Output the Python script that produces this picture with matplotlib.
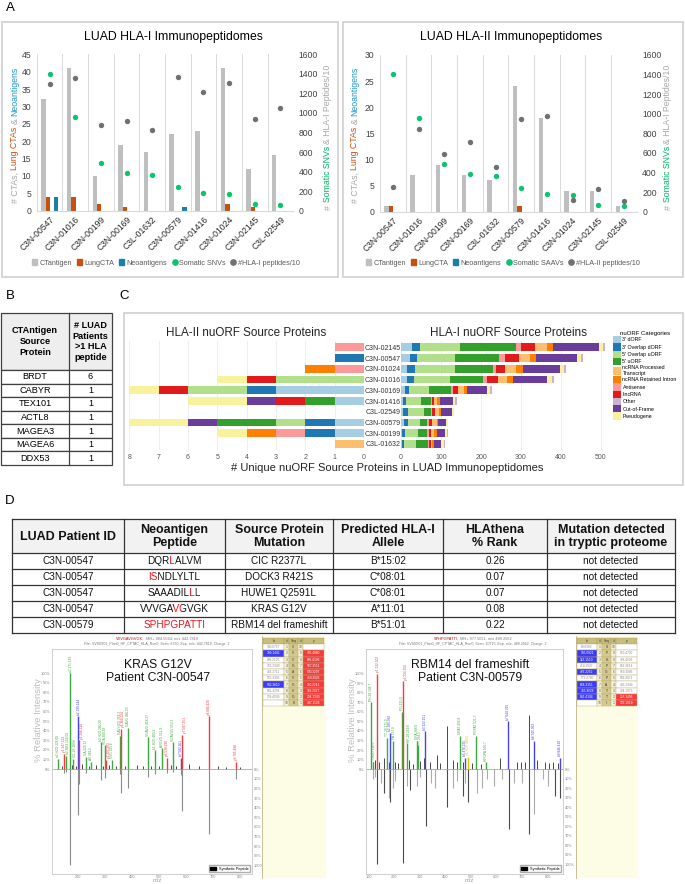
import numpy as np
import matplotlib
matplotlib.use("Agg")
import matplotlib.pyplot as plt
from matplotlib.patches import Rectangle, Patch
from matplotlib.lines import Line2D
from matplotlib.font_manager import FontProperties
from matplotlib.transforms import Bbox, TransformedBbox

FAM = ['Liberation Sans', 'DejaVu Sans']
plt.rcParams['font.family'] = FAM

# ---------------- Panel A data ----------------
patients_a = ['C3N-00547', 'C3N-01016', 'C3N-00199', 'C3N-00169', 'C3L-01632',
              'C3N-00579', 'C3N-01416', 'C3N-01024', 'C3N-02145', 'C3L-02549']
hla1_ctantigen = [32, 41, 10, 19, 17, 22, 23, 41, 12, 16]
hla1_lungcta = [4, 4, 2, 1, 0, 0, 0, 2, 1, 0]
hla1_neoantigens = [4, 0, 0, 0, 0, 1, 0, 0, 0, 0]
hla1_snvs = [1400, 960, 490, 385, 365, 240, 185, 175, 65, 60]
hla1_peptides10 = [1295, 1355, 880, 920, 825, 1370, 1215, 1305, 940, 1055]
hla2_ctantigen = [1, 7, 9, 7, 6, 24, 18, 4, 4, 1]
hla2_lungcta = [1, 0, 0, 0, 0, 1, 0, 0, 0, 0]
hla2_neoantigens = [0, 0, 0, 0, 0, 0, 0, 0, 0, 0]
hla2_saavs = [1405, 960, 490, 385, 365, 240, 185, 175, 65, 60]
hla2_peptides10 = [255, 840, 590, 715, 460, 945, 975, 115, 235, 110]

# ---------------- Panel B data ----------------
b_proteins = ['BRDT', 'CABYR', 'TEX101', 'ACTL8', 'MAGEA3', 'MAGEA6', 'DDX53']
b_patients = ['6', '1', '1', '1', '1', '1', '1']

# ---------------- Panel C data ----------------
patients_c = ['C3N-02145', 'C3N-00547', 'C3N-01024', 'C3N-01016', 'C3N-00169',
              'C3N-01416', 'C3L-02549', 'C3N-00579', 'C3N-00199', 'C3L-01632']
stack_names = ["3' dORF", "3' Overlap dORF", "5' Overlap uORF", "5' uORF", "Antisense",
               "lincRNA", "ncRNA Processed Transcript", "ncRNA Retained Intron",
               "Out-of-Frame", "Pseudogene", "Other"]
stack_colors = ['#A6CEE3', '#1F78B4', '#B2DF8A', '#33A02C', '#FB9A99', '#E31A1C',
                '#FDBF6F', '#FF7F00', '#6A3D9A', '#F8F29C', '#CAB2D6']
h1_3dorf = [27, 22, 14, 16, 10, 5, 6, 7, 3, 3]
h1_3odorf = [20, 17, 21, 16, 10, 8, 12, 11, 7, 5]
h1_5ouorf = [100, 96, 100, 90, 50, 37, 40, 29, 32, 30]
h1_5uorf = [141, 111, 94, 84, 55, 24, 17, 19, 24, 30]
h1_antisense = [12, 14, 8, 8, 4, 3, 3, 4, 4, 3]
h1_lincrna = [36, 35, 23, 29, 13, 6, 7, 7, 5, 3]
h1_ncproc = [30, 27, 27, 23, 16, 6, 10, 12, 8, 4]
h1_ncri = [13, 15, 19, 15, 8, 9, 6, 4, 6, 5]
h1_oof = [116, 103, 92, 85, 50, 31, 27, 19, 21, 17]
h1_pseudo = [10, 10, 10, 12, 7, 6, 4, 5, 4, 8]
h1_other = [5, 5, 5, 4, 4, 4, 1, 1, 3, 1]
h2_3dorf = [0, 0, 0, 0, 3, 1, 0, 1, 1, 0]
h2_3odorf = [0, 1, 0, 0, 1, 0, 0, 1, 1, 0]
h2_5ouorf = [0, 0, 0, 3, 2, 0, 0, 1, 0, 0]
h2_5uorf = [0, 0, 0, 0, 0, 1, 0, 2, 0, 0]
h2_antisense = [1, 0, 1, 0, 0, 0, 0, 0, 1, 0]
h2_lincrna = [0, 0, 0, 1, 1, 1, 0, 0, 0, 0]
h2_ncproc = [0, 0, 0, 0, 0, 0, 0, 0, 0, 1]
h2_ncri = [0, 0, 1, 0, 0, 0, 0, 0, 1, 0]
h2_oof = [0, 0, 0, 0, 0, 1, 0, 1, 0, 0]
h2_pseudo = [0, 0, 0, 1, 1, 2, 0, 2, 1, 0]
h2_other = [0, 0, 0, 0, 0, 0, 0, 0, 0, 0]
legend_order = ["3' dORF", "3' Overlap dORF", "5' Overlap uORF", "5' uORF",
                "ncRNA Processed\nTranscript", "ncRNA Retained Intron", "Antisense",
                "lincRNA", "Other", "Out-of-Frame", "Pseudogene"]
legend_colors = ['#A6CEE3', '#1F78B4', '#B2DF8A', '#33A02C', '#FDBF6F', '#FF7F00',
                 '#FB9A99', '#E31A1C', '#CAB2D6', '#6A3D9A', '#F8F29C']

# ---------------- Panel D data ----------------
d_headers = ['LUAD Patient ID', 'Neoantigen\nPeptide', 'Source Protein\nMutation',
             'Predicted HLA-I\nAllele', 'HLAthena\n% Rank', 'Mutation detected\nin tryptic proteome']
d_patient = ['C3N-00547', 'C3N-00547', 'C3N-00547', 'C3N-00547', 'C3N-00579']
d_peptide = ['DQRLALVM', 'ISNDLYLTL', 'SAAADILLL', 'VVVGAVGVGK', 'SPHPGPATTI']
d_red_pos = [[3], [0, 1], [7], [5], [0, 1, 2, 3, 4, 5, 6, 7, 8, 9]]
d_mutation = ['CIC R2377L', 'DOCK3 R421S', 'HUWE1 Q2591L', 'KRAS G12V', 'RBM14 del frameshift']
d_allele = ['B*15:02', 'C*08:01', 'C*08:01', 'A*11:01', 'B*51:01']
d_rank = ['0.26', '0.07', '0.07', '0.08', '0.22']
d_detected = ['not detected', 'not detected', 'not detected', 'not detected', 'not detected']

# KRAS G12V spectrum (VVVGAVGVGK)
kras_mz = [126.1, 147.1, 154.5, 170.6, 180.6, 199.1, 204.1, 229.2, 248.2, 283.2, 300.2, 303.2,
           325.6, 354.2, 360.2, 386.2, 458.3, 483.3, 511.3, 530.3, 552.3, 582.4, 587.4, 686.4, 785.5]
kras_int = [11, 16, 14, 100, 11, 55, 30, 13, 8, 28, 25, 10, 10, 35, 42, 43, 33, 20, 22, 12, 28, 12, 36, 55, 8]
kras_col = ['g', 'r', 'g', 'g', 'g', 'b', 'r', 'g', 'g', 'g', 'g', 'r', 'g', 'g', 'r', 'g', 'g', 'g',
            'g', 'r', 'g', 'b', 'r', 'r', 'r']
kras_lab = ['a2-H2O 126.09', 'y1 147.113', 'b2-NH3 154.09', 'a2 171.149', 'VG-28 180.6',
            'b2 199.144', 'y2 204.134', 'GA 229.12', 'AV 248.2', 'b3-H2O 280.20', 'VGA 300.18',
            'y3 303.203', 'VVG 325.6', 'GAV-H2O 354.2', 'y4 360.224', 'GAVG 386.23',
            'VGAVG 458.27', 'b5-H2O 483.3', 'AVGVG 511.3', 'y6 530.330', 'VGAVGV 552.3',
            'b7 582.361', 'y7 587.351', 'y8 686.420', 'y9 785.488']
kras_other_mz = [140, 175, 190, 215, 240, 265, 290, 315, 340, 375, 420, 440, 470, 500, 545, 565,
                 610, 650, 720, 750, 800]
kras_other_int = [3, 4, 3, 5, 3, 4, 3, 4, 3, 3, 4, 3, 3, 3, 4, 3, 5, 3, 3, 2, 2]
kras_syn_mz = [147.1, 154.5, 170.6, 199.1, 204.1, 229.2, 283.2, 300.2, 354.2, 360.2, 386.2,
               458.3, 483.3, 530.3, 552.3, 582.4, 587.4, 686.4, 785.5]
kras_syn_int = [-4, -3, -100, -48, -15, -4, -11, -9, -5, -25, -20, -8, -5, -4, -3, -6, -43, -67, -10]
kras_b = ['100.0757', '199.1441', '298.2125', '355.2340', '426.2711', '525.3395', '582.3610',
          '681.4294', '738.4509', '']
kras_y = ['', '785.4880', '686.4196', '587.3511', '530.3297', '459.2926', '360.2241',
          '303.2027', '204.1343', '147.1128']
kras_blue_rows = [2, 7]
kras_red_rows = [2, 3, 4, 5, 6, 7, 8, 9, 10]

# RBM14 del frameshift spectrum (SPHPGPATTI)
rbm_mz = [108.7, 116.5, 132.1, 171.0, 185.1, 197.0, 231.0, 233.1, 249.0, 288.0, 294.5, 322.2,
          456.8, 476.2, 489.0, 521.7, 560.7, 644.3, 745.4, 846.4]
rbm_int = [70, 8, 100, 33, 38, 30, 60, 92, 27, 30, 25, 40, 35, 12, 13, 35, 7, 50, 30, 12]
rbm_col = ['g', 'g', 'r', 'g', 'b', 'g', 'g', 'r', 'g', 'g', 'g', 'b', 'g', 'b', 'y', 'g', 'g',
           'b', 'b', 'b']
rbm_lab = ['PH-28 108.7', 'T-H2O 116.5', 'y1 132.102', 'TT-28 171.0', 'b2 185.092', 'PA 197.0',
           'PG 231.0', 'y2 233.150', 'HP-28 249.0', 'GPA 288.0', 'TT 294.5', 'b3 322.151',
           'GPAT 456.8', 'b5 476.225', 'y4-H2O 489.0', 'PGPAT 521.7', 'HPGPA 560.7',
           'b7 644.315', 'b8 745.363', 'b9 846.410']
rbm_other_mz = [117, 125, 142, 160, 178, 205, 215, 260, 275, 300, 318, 340, 366, 378, 405, 430,
                445, 470, 505, 540, 612, 680, 697, 710, 727, 760, 790, 807, 820, 842]
rbm_other_int = [8, 10, 8, 12, 8, 8, 6, 10, 5, 9, 12, 8, 15, 6, 45, 10, 8, 7, 6, 5, 12, 8, 7, 8,
                 57, 10, 8, 6, 8, 6]
rbm_syn_dark_mz = [133, 160, 185, 233, 262, 325, 406, 470, 490, 648, 727, 830, 850]
rbm_syn_dark_int = [-100, -25, -35, -98, -22, -60, -40, -28, -35, -63, -68, -28, -30]
rbm_syn_light_mz = [117, 125, 147, 178, 197, 205, 250, 290, 300, 345, 360, 430, 445, 476, 522,
                    545, 563, 590, 620, 670, 700, 745, 780, 800]
rbm_syn_light_int = [-10, -8, -15, -30, -20, -12, -18, -18, -8, -15, -20, -20, -12, -15, -25,
                     -20, -10, -18, -10, -15, -15, -47, -10, -18]
rbm_b = ['88.0393', '185.0921', '322.1510', '419.2037', '476.2252', '573.2780', '644.3151',
         '745.3628', '846.4104', '']
rbm_y = ['', '890.4730', '793.4203', '656.3614', '559.3086', '502.2871', '405.2344',
         '334.1973', '233.1496', '132.1019']
rbm_blue_rows = [2, 3, 5, 7, 8, 9]
rbm_red_rows = [9, 10]

# ======================================================================
W, H = 685, 884
fig = plt.figure(figsize=(W / 100, H / 100), dpi=100)
renderer = fig.canvas.get_renderer()


def frect(l, t, r, b):
    return [l / W, 1 - b / H, (r - l) / W, (b - t) / H]


def fprop(size, weight='normal'):
    return FontProperties(family=FAM, size=size, weight=weight)


def tw(s, size, weight='normal'):
    if s == '':
        return 0.0
    w, h, d = renderer.get_text_width_height_descent(s, fprop(size, weight), ismath=False)
    return w


ov = fig.add_axes([0, 0, 1, 1], zorder=20)
ov.set_xlim(0, W)
ov.set_ylim(H, 0)
ov.axis('off')


def seg_h(cx, y, segs, size, weight='normal'):
    full = ''.join(s for s, c in segs)
    total = tw(full, size, weight)
    x0 = cx - total / 2
    prefix = ''
    for s, c in segs:
        ov.text(x0 + tw(prefix, size, weight), y, s, color=c, fontsize=size, weight=weight,
                ha='left', va='center')
        prefix += s


def peptide_text(cx, y, pep, red_idx, size, red, black):
    """Draw the whole string once per colour run, clipped to that run, so that glyph
    positions are exactly those of the un-split string."""
    n = len(pep)
    total = tw(pep, size)
    x0 = cx - total / 2
    ink0 = x0 + 0.5
    bounds = [-1e5]
    for k in range(1, n):
        right_prev = tw(pep[:k], size)
        left_k = tw(pep[:k + 1], size) - tw(pep[k], size)
        bounds.append(ink0 + (right_prev + left_k) / 2)
    bounds.append(1e5)
    k = 0
    while k < n:
        is_red = k in red_idx
        j = k
        while j + 1 < n and ((j + 1) in red_idx) == is_red:
            j += 1
        t = ov.text(x0, y, pep, color=red if is_red else black, fontsize=size, ha='left',
                    va='center')
        if not (k == 0 and j == n - 1):
            t.set_clip_box(TransformedBbox(Bbox.from_extents(bounds[k], y - 12, bounds[j + 1],
                                                             y + 12), ov.transData))
            t.set_clip_on(True)
        k = j + 1


def seg_v(x, cy, segs, size):
    gap = tw('a a', size) - tw('aa', size)
    widths = [tw(s, size) for s, c in segs]
    total = sum(widths) + gap * (len(segs) - 1)
    y = cy + total / 2
    for (s, c), w in zip(segs, widths):
        ov.text(x, y, s, color=c, fontsize=size, rotation=90, ha='center', va='bottom')
        y -= w + gap


def box(l, t, r, b, ec='#D0D0D0', lw=1.2, fc='none', z=1):
    ov.add_patch(Rectangle((l, t), r - l, b - t, fc=fc, ec=ec, lw=lw, zorder=z))


# panel letters
for lab, (x, y) in zip(['A', 'B', 'C', 'D'], [(10, 8), (10, 296), (124, 296), (10, 501)]):
    ov.text(x, y, lab, fontsize=9.5, ha='center', va='center')

# ---------------- Panel A ----------------
GRAY_BAR, ORANGE, TEAL = '#BFBFBF', '#C5500F', '#1A80A8'
GREEN, DGRAY = '#0CC46E', '#707070'


def panel_a(l, t, r, b, ct, lung, neo, snv, pep, ymax, title, tx, pep_name, snv_name, leg_cx,
            ylab_x, y2lab_x):
    ax = fig.add_axes(frect(l, t, r, b))
    x = np.arange(len(patients_a))
    ax.bar(x - 0.24, ct, 0.17, color=GRAY_BAR, zorder=2)
    ax.bar(x - 0.06, lung, 0.17, color=ORANGE, zorder=2)
    ax.bar(x + 0.26, neo, 0.17, color=TEAL, zorder=2)
    ax.set_xlim(-0.5, 9.5)
    ax.set_ylim(0, ymax)
    ax.set_yticks(np.arange(0, ymax + 1, 5))
    ax.set_xticks(x)
    ax.set_xticklabels(patients_a, rotation=45, ha='right', rotation_mode='anchor',
                       fontsize=6.2, color='#262626')
    ax.set_xticks(np.arange(-0.5, 10, 1), minor=True)
    ax.grid(which='minor', axis='x', color='#D9D9D9', lw=0.7)
    ax.tick_params(which='both', length=0)
    ax.tick_params(axis='y', labelsize=6.2, labelcolor='#404040', pad=4)
    ax.tick_params(axis='x', pad=3)
    for s in ['top', 'left', 'right']:
        ax.spines[s].set_visible(False)
    ax.spines['bottom'].set_color('#D9D9D9')
    ax2 = ax.twinx()
    ax2.scatter(x, snv, s=15, color=GREEN, zorder=3, linewidths=0)
    ax2.scatter(x, pep, s=15, color=DGRAY, zorder=3, linewidths=0)
    ax2.set_ylim(0, 1600)
    ax2.set_yticks(np.arange(0, 1601, 200))
    ax2.tick_params(length=0, labelsize=6.2, labelcolor='#404040', pad=4)
    for s in ['top', 'left', 'right', 'bottom']:
        ax2.spines[s].set_visible(False)
    ov.text(tx, 37, title, fontsize=8.8, ha='center', va='center')
    handles = [Patch(color=GRAY_BAR), Patch(color=ORANGE), Patch(color=TEAL),
               Line2D([], [], marker='o', ls='', color=GREEN, markersize=3.8),
               Line2D([], [], marker='o', ls='', color=DGRAY, markersize=3.8)]
    labels = ['CTantigen', 'LungCTA', 'Neoantigens', snv_name, pep_name]
    ax.legend(handles, labels, loc='center', bbox_to_anchor=(leg_cx / W, 1 - 263 / H),
              bbox_transform=fig.transFigure, ncol=5, frameon=False, fontsize=5.2,
              handlelength=0.7, handleheight=0.7, handletextpad=0.3, columnspacing=0.7,
              labelcolor='#595959')
    seg_v(ylab_x, 135, [('# CTAs,', '#A6A6A6'), ('Lung CTAs', '#C5500F'), ('&', '#A6A6A6'),
                        ('Neoantigens', '#1E96C8')], 6.3)
    seg_v(y2lab_x, 137, [('#', '#A6A6A6'), ('Somatic SNVs', '#00B060'),
                         ('& HLA-I Peptides/10', '#A6A6A6')], 6.3)


panel_a(36.7, 54.3, 293.3, 210.7, hla1_ctantigen, hla1_lungcta, hla1_neoantigens, hla1_snvs,
        hla1_peptides10, 45, 'LUAD HLA-I Immunopeptidomes', 173, '#HLA-I peptides/10',
        'Somatic SNVs', 166, 15, 328)
panel_a(380, 55, 636.7, 211.7, hla2_ctantigen, hla2_lungcta, hla2_neoantigens, hla2_saavs,
        hla2_peptides10, 30, 'LUAD HLA-II Immunopeptidomes', 511, '#HLA-II peptides/10',
        'Somatic SAAVs', 503, 355, 668)
box(2, 22, 338, 277)
box(343, 22, 683, 277)

# ---------------- Panel B ----------------
bx = [1, 69, 112]
b_top, b_hdr = 313, 370
b_rh = (465 - 370) / len(b_proteins)
ov.add_patch(Rectangle((bx[0], b_top), bx[2] - bx[0], b_hdr - b_top, fc='#EEEEEE', ec='#404040',
                       lw=0.9))
ov.text((bx[0] + bx[1]) / 2, (b_top + b_hdr) / 2, 'CTAntigen\nSource\nProtein', fontsize=6.6,
        weight='bold', ha='center', va='center', linespacing=1.25)
ov.text((bx[1] + bx[2]) / 2, (b_top + b_hdr) / 2, '# LUAD\nPatients\n>1 HLA\npeptide',
        fontsize=6.6, weight='bold', ha='center', va='center', linespacing=1.22)
for i, (p, n) in enumerate(zip(b_proteins, b_patients)):
    yt = b_hdr + i * b_rh
    ov.add_patch(Rectangle((bx[0], yt), bx[2] - bx[0], b_rh, fc='white', ec='#404040', lw=0.9))
    ov.text((bx[0] + bx[1]) / 2, yt + b_rh / 2, p, fontsize=6.6, ha='center', va='center')
    ov.text((bx[1] + bx[2]) / 2, yt + b_rh / 2, n, fontsize=6.6, ha='center', va='center')
ov.plot([bx[1], bx[1]], [b_top, b_hdr + b_rh * len(b_proteins)], color='#404040', lw=0.9)

# ---------------- Panel C ----------------
h1_lists = [h1_3dorf, h1_3odorf, h1_5ouorf, h1_5uorf, h1_antisense, h1_lincrna, h1_ncproc,
            h1_ncri, h1_oof, h1_pseudo, h1_other]
h2_lists = [h2_3dorf, h2_3odorf, h2_5ouorf, h2_5uorf, h2_antisense, h2_lincrna, h2_ncproc,
            h2_ncri, h2_oof, h2_pseudo, h2_other]
yy = np.arange(len(patients_c))
c_top, c_bot = 340.9, 450.4

axL = fig.add_axes(frect(126.4, c_top, 364, c_bot))
cum = np.zeros(len(patients_c))
for vals, col in zip(h2_lists, stack_colors):
    axL.barh(yy, vals, left=cum, height=0.72, color=col, lw=0, zorder=2)
    cum += np.array(vals)
axL.set_xlim(8.1, 0)
axL.set_ylim(9.6, -0.6)
axL.set_xticks(np.arange(0, 9))
axL.set_yticks([])
axL.grid(axis='x', color='#EBEBEB', lw=0.6)
axL.set_axisbelow(True)
axL.tick_params(length=0, labelsize=5, labelcolor='#555555', pad=2.5)
for s in axL.spines.values():
    s.set_visible(False)

axR = fig.add_axes(frect(400, c_top, 609, c_bot))
cum = np.zeros(len(patients_c))
for vals, col in zip(h1_lists, stack_colors):
    axR.barh(yy, vals, left=cum, height=0.72, color=col, lw=0, zorder=2)
    cum += np.array(vals)
axR.set_xlim(-2.5, 520)
axR.set_ylim(9.6, -0.6)
axR.set_xticks(np.arange(0, 501, 100))
axR.set_yticks(yy)
axR.set_yticklabels(patients_c, fontsize=5, color='#333333', ha='center')
axR.tick_params(axis='y', length=0, pad=12.2)
axR.grid(axis='x', color='#EBEBEB', lw=0.6)
axR.set_axisbelow(True)
axR.tick_params(axis='x', length=0, labelsize=5, labelcolor='#555555', pad=2.5)
for s in axR.spines.values():
    s.set_visible(False)
ov.text(246, 333, 'HLA-II nuORF Source Proteins', fontsize=8.4, ha='center', va='center',
        color='#222222')
ov.text(509, 333, 'HLA-I nuORF Source Proteins', fontsize=8.4, ha='center', va='center',
        color='#222222')
ov.text(387, 468, '# Unique nuORF Source Proteins in LUAD Immunopeptidomes', fontsize=8.0,
        ha='center', va='center', color='#222222')
leg_handles = [Patch(facecolor=c, edgecolor='none') for c in legend_colors]
axR.legend(leg_handles, legend_order, loc='upper left', bbox_to_anchor=(613 / W, 1 - 331 / H),
           bbox_transform=fig.transFigure, fontsize=3.8, title='nuORF Categories',
           title_fontsize=4.3, frameon=False, handlelength=1.5, handleheight=1.75,
           labelspacing=0.0, handletextpad=0.3, borderpad=0.0, borderaxespad=0.0)
box(124, 313, 683, 485)

# ---------------- Panel D table ----------------
dx = [12, 124, 225, 333, 443, 547, 675]
dy = [519, 553, 569, 585, 601, 617, 633]
ov.add_patch(Rectangle((dx[0], dy[0]), dx[-1] - dx[0], dy[1] - dy[0], fc='#F2F2F2', ec='none'))
for yv in dy:
    ov.plot([dx[0], dx[-1]], [yv, yv], color='#333333', lw=0.9)
for xv in dx:
    ov.plot([xv, xv], [dy[0], dy[-1]], color='#333333', lw=0.9)
for j, h in enumerate(d_headers):
    ov.text((dx[j] + dx[j + 1]) / 2, (dy[0] + dy[1]) / 2 + 0.5, h, fontsize=9, weight='bold',
            ha='center', va='center', linespacing=1.2, color='#111111')
RED = '#F0141E'
for i in range(len(d_patient)):
    cy = (dy[i + 1] + dy[i + 2]) / 2 + 0.3
    cols = [d_patient[i], None, d_mutation[i], d_allele[i], d_rank[i], d_detected[i]]
    for j, s in enumerate(cols):
        cx = (dx[j] + dx[j + 1]) / 2
        if s is None:
            peptide_text(cx, cy, d_peptide[i], d_red_pos[i], 7.2, RED, '#111111')
        else:
            ov.text(cx, cy, s, fontsize=7.2, ha='center', va='center', color='#111111')

# ---------------- Spectra ----------------
PCOL = {'g': '#3DAA3D', 'r': '#F03C3C', 'b': '#4444F0', 'y': '#E5C100'}


def spectrum(l, t, r, b, xlim, ylim, mz, inten, cols, labs, omz, oint, syn_sets, xticks,
             title, hdr1, hdr2, hdr_cx):
    ax = fig.add_axes(frect(l, t, r, b))
    ax.vlines(omz, 0, oint, colors='#2B2B2B', lw=0.6, zorder=2)
    for mzs, ints, c in syn_sets:
        ax.vlines(mzs, 0, ints, colors=c, lw=0.8, zorder=2)
    ax.vlines(mz, 0, inten, colors=[PCOL[c] for c in cols], lw=1.0, zorder=3)
    units_per_px = (xlim[1] - xlim[0]) / (r - l)
    min_gap = 3.6 * units_per_px
    order = np.argsort(mz)
    placed = []
    last = -1e9
    for k in order:
        xpos = max(mz[k], last + min_gap)
        placed.append((k, xpos))
        last = xpos
    for k, xpos in placed:
        ax.text(xpos, inten[k] + 1.5, labs[k], rotation=90, fontsize=2.3,
                color=PCOL[cols[k]], ha='center', va='bottom')
    ax.axhline(0, color='#999999', lw=0.5)
    ax.set_xlim(*xlim)
    ax.set_ylim(*ylim)
    ax.set_xticks(xticks)
    ax.set_xticklabels([str(v) for v in xticks])
    ax.set_yticks(np.arange(0, 101, 10))
    ax.set_yticklabels([f'{v}%' for v in range(0, 101, 10)])
    ax.tick_params(length=0, labelsize=2.8, labelcolor='#888888', pad=1)
    for s in ax.spines.values():
        s.set_color('#C8C8C8')
        s.set_linewidth(0.6)
    axr = ax.twinx()
    axr.set_ylim(*ylim)
    axr.set_yticks(np.arange(0, -101, -10))
    axr.set_yticklabels([f'{v}%' for v in range(0, 101, 10)])
    axr.tick_params(length=0, labelsize=2.8, labelcolor='#888888', pad=1)
    for s in axr.spines.values():
        s.set_visible(False)
    ax.text(0.53, 0.9, title, transform=ax.transAxes, fontsize=8.8, ha='center', va='center',
            linespacing=1.1, color='#111111')
    ax.legend([Patch(color='black')], ['Synthetic Peptide'], loc='lower right', fontsize=2.8,
              frameon=True, edgecolor='#999999', fancybox=False, handlelength=1.5,
              handleheight=1.0, borderpad=0.4, borderaxespad=0.4)
    seg_h(hdr_cx, 639, hdr1, 2.8)
    ov.text(hdr_cx, 644.5, hdr2, fontsize=2.6, ha='center', va='center', color='#777777')
    ov.text(l - 13, 720, '% Relative Intensity', rotation=90, fontsize=6.8, color='#BDBDBD',
            ha='center', va='center')
    ov.text((l + r) / 2 + 5, 881, 'm/z', fontsize=4.2, color='#999999', ha='center',
            va='center')
    return ax


def frag_table(xe, y0, seq, bvals, yvals, blue_rows, red_rows, bg_l, bg_r):
    ov.add_patch(Rectangle((bg_l, 636), bg_r - bg_l, 242, fc='#FDFCE4', ec='none', zorder=1))
    ov.plot([bg_l, bg_l], [636, 878], color='#BDB58A', lw=0.6, zorder=2)
    rh = 6.2
    hdr = ['b', '#', 'Seq', '#', 'y']
    for j in range(5):
        ov.add_patch(Rectangle((xe[j], y0), xe[j + 1] - xe[j], rh, fc='#C9BD7E', ec='#A89A55',
                               lw=0.3, zorder=3))
        ov.text((xe[j] + xe[j + 1]) / 2, y0 + rh / 2, hdr[j], fontsize=2.4, ha='center',
                va='center', color='#333333', zorder=4)
    n = len(seq)
    for i in range(n):
        yt = y0 + rh * (i + 1)
        row = i + 1
        cells = [bvals[i], str(i + 1), seq[i], str(n - i), yvals[i]]
        fcs = ['#3C3CF5' if row in blue_rows else 'white', '#F5F1D6', '#D4C98E', '#F5F1D6',
               '#F53C3C' if row in red_rows else 'white']
        tcs = ['white' if row in blue_rows else '#888888', '#555555', '#333333', '#555555',
               'white' if row in red_rows else '#888888']
        for j in range(5):
            ov.add_patch(Rectangle((xe[j], yt), xe[j + 1] - xe[j], rh, fc=fcs[j],
                                   ec='#B8AE7A', lw=0.3, zorder=3))
            ov.text((xe[j] + xe[j + 1]) / 2, yt + rh / 2, cells[j], fontsize=2.3, ha='center',
                    va='center', color=tcs[j], zorder=4)


spectrum(52, 649, 252, 874, (102, 846), (-109, 125), kras_mz, kras_int, kras_col, kras_lab,
         kras_other_mz, kras_other_int, [(kras_syn_mz, kras_syn_int, '#8C8C8C')],
         [200, 300, 400, 500, 600, 700, 800], 'KRAS G12V\nPatient C3N-00547',
         [('VVVGAVGVGK,', '#C00000'), (' MH+ 884.5564, m/z 442.7818', '#777777')],
         'File: VVS0X01_Plan0_HF_CPTAC_HLA_Run0, Scan: 6790, Exp. m/z: 442.7818, Charge: 2',
         157)
frag_table([263, 284, 289, 298, 303, 324], 638, 'VVVGAVGVGK', kras_b, kras_y, kras_blue_rows,
           kras_red_rows, 262, 326)

spectrum(366, 649, 563, 874, (90, 860), (-110, 126), rbm_mz, rbm_int, rbm_col, rbm_lab,
         rbm_other_mz, rbm_other_int,
         [(rbm_syn_light_mz, rbm_syn_light_int, '#ABABAB'),
          (rbm_syn_dark_mz, rbm_syn_dark_int, '#4A4A4A')],
         [100, 200, 300, 400, 500, 600, 700, 800], 'RBM14 del frameshift\nPatient C3N-00579',
         [('SPHPGPATTI,', '#C00000'), (' MH+ 977.5051, m/z 489.2562', '#777777')],
         'File: VVS0X01_Plan0_HF_CPTAC_HLA_Run0, Scan: 10715, Exp. m/z: 489.2562, Charge: 2',
         473)
frag_table([577, 597, 602, 611, 616, 637], 638, 'SPHPGPATTI', rbm_b, rbm_y, rbm_blue_rows,
           rbm_red_rows, 576, 638)

fig.savefig('out.png', dpi=100)
